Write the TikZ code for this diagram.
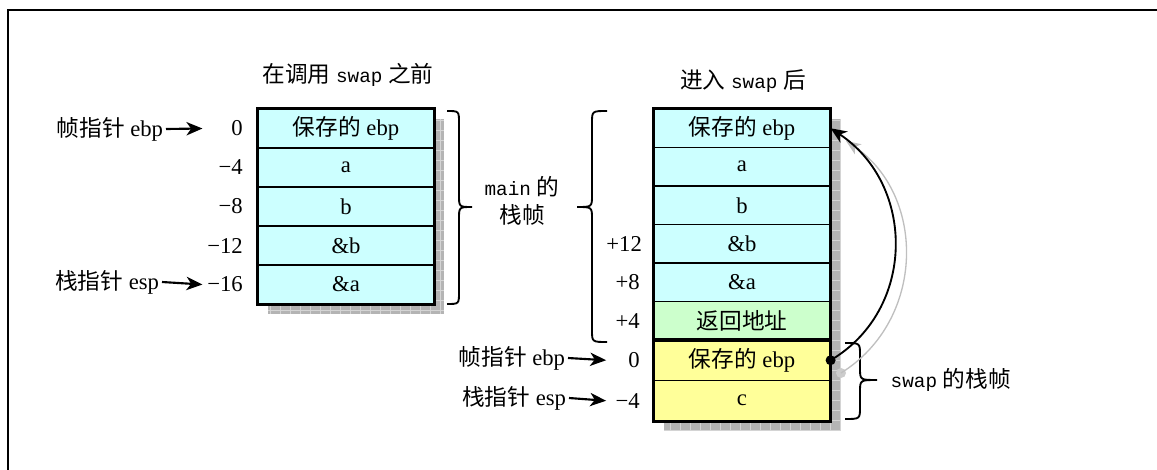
\documentclass[tikz,border=0pt]{standalone}
\usepackage{fontspec}
\setmainfont{Liberation Serif}
\setmonofont{Liberation Mono}
\newfontfamily\cjk{Noto Sans CJK SC}
\usetikzlibrary{arrows.meta}
\definecolor{cyanc}{RGB}{204,255,255}
\definecolor{greenc}{RGB}{204,255,204}
\definecolor{yellowc}{RGB}{255,255,153}
\definecolor{shadowc}{RGB}{180,180,180}
\definecolor{gridc}{RGB}{212,212,212}
\newcommand\mytt[1]{{\fontsize{14.5}{16}\selectfont\ttfamily #1}}
\begin{document}
\begin{tikzpicture}[x=0.75pt,y=-0.75pt,
  font=\fontsize{17}{21}\selectfont,
  cell/.style={draw, line width=0.9pt, minimum width=132pt, inner sep=0pt},
  outer/.style={line width=2pt},
  numl/.style={anchor=east, inner sep=0pt, text width=30pt, align=right},
  numr/.style={anchor=east, inner sep=0pt, text width=25pt, align=right},
  ptr/.style={anchor=east, inner sep=2pt},
  parrow/.style={line width=1.6pt, -{Stealth[length=12pt,width=10pt,inset=3.5pt]}},
  brace/.style={line width=1.4pt},
  dot/.style={circle, inner sep=0pt, minimum size=7.5pt}]
\useasboundingbox (0,0) rectangle (1157,470);
% frame
\draw[line width=1.6pt] (8,470) -- (8,10) -- (1157,10);
% shadows
\fill[shadowc] (268,119) rectangle (444,314);
\foreach \i in {270,280,...,440} \draw[gridc, line width=0.4pt] (\i,119) -- (\i,314);
\foreach \j in {120,130,...,310} \draw[gridc, line width=0.4pt] (268,\j) -- (444,\j);
\fill[shadowc] (664,119) rectangle (840,431);
\foreach \i in {670,680,...,840} \draw[gridc, line width=0.4pt] (\i,119) -- (\i,431);
\foreach \j in {120,130,...,430} \draw[gridc, line width=0.4pt] (664,\j) -- (840,\j);
% titles
\node (t1) at (348,75) {{\cjk 在调用} \mytt{swap} {\cjk 之前}};
\node (t2) at (743,81) {{\cjk 进入} \mytt{swap} {\cjk 后}};
% left stack
\node[cell, fill=cyanc, minimum height=29.25pt] (L1) at (346,128.5) {{\cjk 保存的} ebp};
\node[cell, fill=cyanc, minimum height=29.25pt] (L2) at (346,167.5) {a};
\node[cell, fill=cyanc, minimum height=29.25pt] (L3) at (346,206.5) {b};
\node[cell, fill=cyanc, minimum height=29.25pt] (L4) at (346,245.5) {\&b};
\node[cell, fill=cyanc, minimum height=29.25pt] (L5) at (346,284.5) {\&a};
\draw[outer] (L1.north west) rectangle (L5.south east);
\node[numl] (ln1) at (243,128.5) {0};
\node[numl] (ln2) at (243,167.5) {−4};
\node[numl] (ln3) at (243,206.5) {−8};
\node[numl] (ln4) at (243,245.5) {−12};
\node[numl] (ln5) at (243,284.5) {−16};
\node[ptr] (lp1) at (166,129) {{\cjk 帧指针} ebp};
\node[ptr] (lp2) at (162,282) {{\cjk 栈指针} esp};
\draw[parrow] (lp1.east) -- (ln1.west);
\draw[parrow] (lp2.east) -- (ln5.west);
% right stack
\node[cell, fill=cyanc, minimum height=28.875pt] (R1) at (742,128.25) {{\cjk 保存的} ebp};
\node[cell, fill=cyanc, minimum height=28.875pt] (R2) at (742,166.75) {a};
\node[cell, fill=cyanc, minimum height=28.875pt] (R3) at (742,205.25) {b};
\node[cell, fill=cyanc, minimum height=28.875pt] (R4) at (742,243.75) {\&b};
\node[cell, fill=cyanc, minimum height=28.875pt] (R5) at (742,282.25) {\&a};
\node[cell, fill=greenc, minimum height=28.875pt] (R6) at (742,320.75) {{\cjk 返回地址}};
\node[cell, fill=yellowc, minimum height=30.375pt] (R7) at (742,360.25) {{\cjk 保存的} ebp};
\node[cell, fill=yellowc, minimum height=30.375pt] (R8) at (742,400.75) {c};
\draw[outer] (R1.north west) rectangle (R6.south east);
\draw[outer] (R7.north west) rectangle (R8.south east);
\node[numr] (rn1) at (640,243.75) {+12};
\node[numr] (rn2) at (640,282.25) {+8};
\node[numr] (rn3) at (640,320.75) {+4};
\node[numr] (rn4) at (640,360.25) {0};
\node[numr] (rn5) at (640,400.75) {−4};
\node[ptr] (rp1) at (568,358) {{\cjk 帧指针} ebp};
\node[ptr] (rp2) at (569,398) {{\cjk 栈指针} esp};
\draw[parrow] (rp1.east) -- (rn4.west);
\draw[parrow] (rp2.east) -- (rn5.west);
% braces
\draw[brace] (447,111) .. controls (459,111) .. (459,123) -- (459,195)
  .. controls (459,207) .. (472,207) .. controls (459,207) .. (459,219)
  -- (459,292) .. controls (459,304) .. (447,304);
\draw[brace] (607,111) .. controls (592,111) .. (592,123) -- (592,195)
  .. controls (592,207) .. (577,207) .. controls (592,207) .. (592,219)
  -- (592,330) .. controls (592,342) .. (607,342);
\draw[brace] (845,343) .. controls (860,343) .. (860,355) -- (860,368)
  .. controls (860,380) .. (877,380) .. controls (860,380) .. (860,392)
  -- (860,407) .. controls (860,419) .. (845,419);
\node[align=center] (mf) at (522,201) {\mytt{main} {\cjk 的}\\{\cjk 栈帧}};
\node[anchor=west] (sf) at (886,380) {\mytt{swap} {\cjk 的栈帧}};
% curved arrows
\coordinate (g1) at (846,141);
\node[dot, fill=gray!40] (d2) at (841,373) {};
\draw[gray!50, line width=1pt, -{Stealth[length=11pt,width=9pt,inset=3pt]}] (d2.center) .. controls (926,320) and (926,195) .. (g1);
\node[dot, fill=black] (d1) at (R7.east) {};
\draw[line width=1.4pt, -{Stealth[length=12pt,width=10pt,inset=3.5pt]}] (d1.center) .. controls (916,310) and (916,185) .. (R1.east);
\end{tikzpicture}
\end{document}
